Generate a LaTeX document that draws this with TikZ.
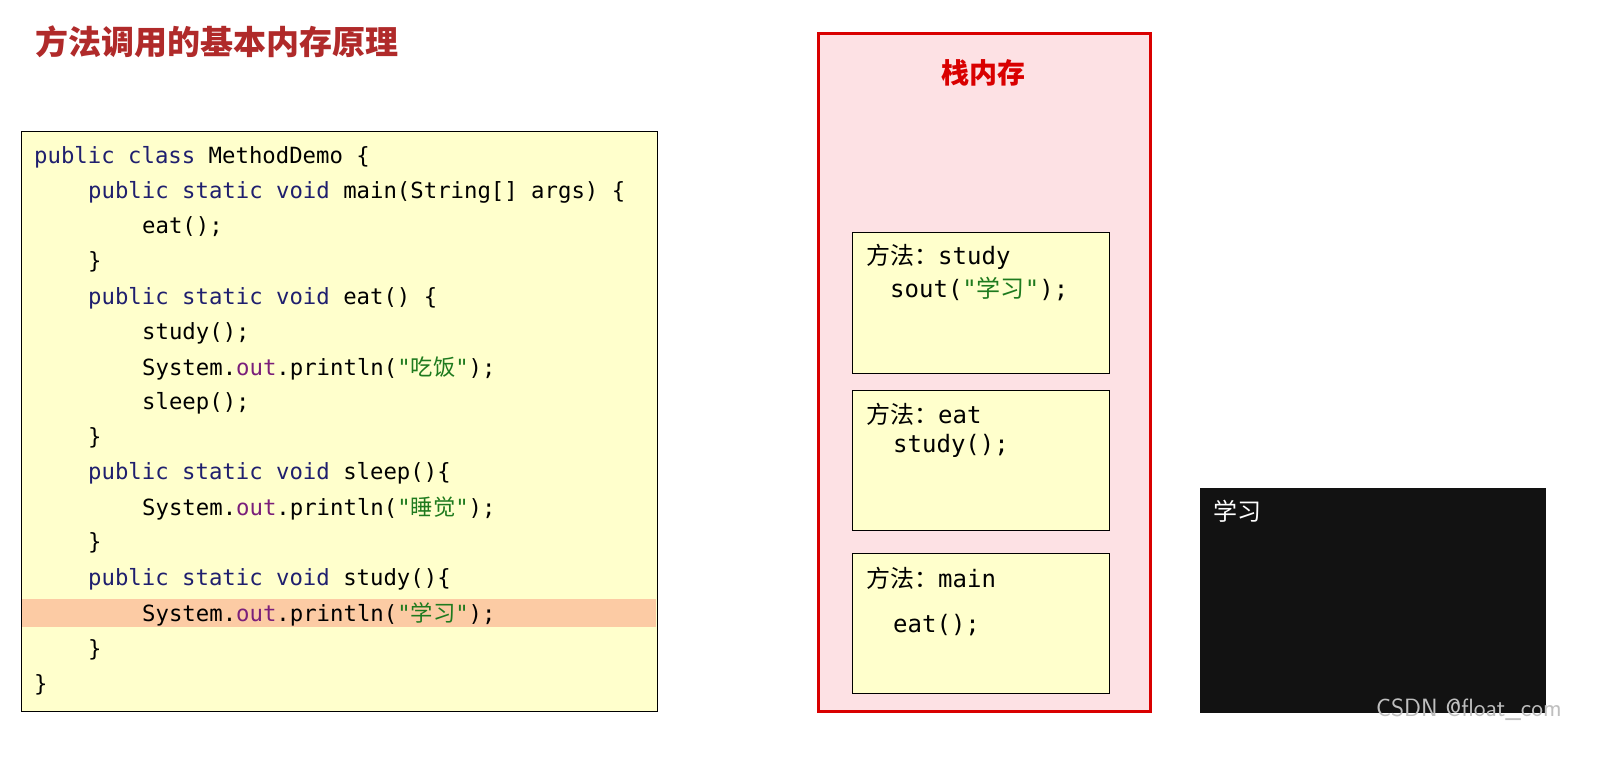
\documentclass[tikz,border=0pt]{standalone}
\usepackage{fontspec}
\setmonofont{DejaVu Sans Mono}
\newfontfamily\cjk{Noto Sans CJK SC}
\begin{document}
\begin{tikzpicture}[x=1pt,y=-1pt,
  code/.style={anchor=west,inner sep=0pt,font=\fontsize{22.3}{24}\selectfont\ttfamily},
  frametxt/.style={anchor=west,inner sep=0pt,font=\fontsize{24}{26}\selectfont\ttfamily},
  frame/.style={draw=black,fill=boxy,line width=1pt}]
\definecolor{boxy}{HTML}{FFFFCC}
\definecolor{kw}{HTML}{1F1F6E}
\definecolor{outc}{HTML}{7A1F7A}
\definecolor{strc}{HTML}{1E7A1E}
\definecolor{titlec}{HTML}{B02A2A}
\definecolor{stackfill}{HTML}{FDE1E4}
\definecolor{hl}{HTML}{FCCBA4}
\newcommand{\kw}[1]{\textcolor{kw}{#1}}
\newcommand{\zh}[1]{\textcolor{strc}{"{\cjk #1}"}}
\newcommand{\outw}{\textcolor{outc}{out}}
\useasboundingbox (0,0) rectangle (1616,759);
\fill[white] (0,0) rectangle (1616,759);
\node[anchor=west,inner sep=0pt,text=titlec,font=\fontsize{33}{36}\selectfont\cjk\bfseries] (title) at (35,42) {方法调用的基本内存原理};
% code box
\draw[fill=boxy,line width=1pt] (21,132) rectangle (657,711);
\fill[hl] (22,599) rectangle (656,627);
\node[code] (l1) at (34,157) {\kw{public class} MethodDemo \{};
\node[code] (l2) at (88,192) {\kw{public static void} main(String[] args) \{};
\node[code] (l3) at (142,227) {eat();};
\node[code] (l4) at (88,262) {\}};
\node[code] (l5) at (88,298) {\kw{public static void} eat() \{};
\node[code] (l6) at (142,333) {study();};
\node[code] (l7) at (142,368) {System.\outw.println(\zh{吃饭});};
\node[code] (l8) at (142,403) {sleep();};
\node[code] (l9) at (88,438) {\}};
\node[code] (l10) at (88,473) {\kw{public static void} sleep()\{};
\node[code] (l11) at (142,508) {System.\outw.println(\zh{睡觉});};
\node[code] (l12) at (88,543) {\}};
\node[code] (l13) at (88,579) {\kw{public static void} study()\{};
\node[code] (l14) at (142,614) {System.\outw.println(\zh{学习});};
\node[code] (l15) at (88,650) {\}};
\node[code] (l16) at (34,685) {\}};
% stack
\draw[draw=red!85!black,fill=stackfill,line width=3pt] (818,34) rectangle (1150,711);
\node[inner sep=0pt,text=red!85!black,font=\fontsize{28}{30}\selectfont\cjk\bfseries] (stt) at (983,73) {栈内存};
\draw[frame] (852,233) rectangle (1109,373);
\draw[frame] (852,390) rectangle (1109,530);
\draw[frame] (852,553) rectangle (1109,693);
\node[frametxt] (f1a) at (866,257) {{\cjk 方法：}study};
\node[frametxt] (f1b) at (890,289) {sout(\zh{学习});};
\node[frametxt] (f2a) at (866,414) {{\cjk 方法：}eat};
\node[frametxt] (f2b) at (893,446) {study();};
\node[frametxt] (f3a) at (866,578) {{\cjk 方法：}main};
\node[frametxt] (f3b) at (893,625) {eat();};
% console
\fill[black!93] (1200,488) rectangle (1546,713);
\node[anchor=west,inner sep=0pt,text=white,font=\fontsize{24}{26}\selectfont\cjk] (con) at (1213,511) {学习};
\node[anchor=east,inner sep=0pt,text=black!25,font=\fontsize{25}{28}\selectfont\sffamily] (wm) at (1562,710) {CSDN @float\_com};
\end{tikzpicture}
\end{document}
